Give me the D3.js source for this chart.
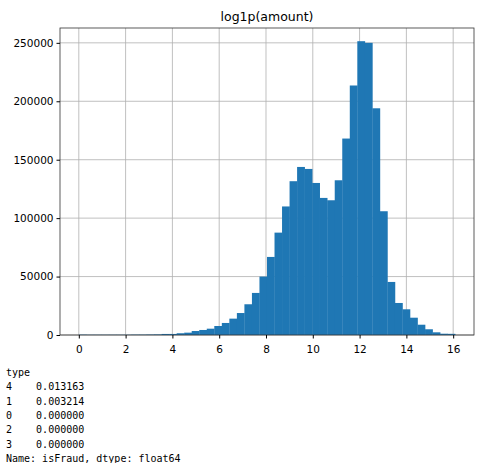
<!DOCTYPE html>
<html><head><meta charset="utf-8">
<script src="https://cdn.jsdelivr.net/npm/d3@7"></script>
<style>body{margin:0;background:#fff}</style></head>
<body><svg id="c" width="485" height="463"></svg>
<script>
const binStart = 0, binWidth = 0.3217;
const counts = [300,200,200,200,200,200,200,300,300,400,500,900,900,1500,2000,3400,4300,5400,7700,10300,14000,18800,26300,36000,50000,66800,87600,110000,131600,143800,142100,130100,117300,115300,132400,168100,213500,251400,250000,194000,105900,45400,27400,22000,14800,8800,4900,2300,1100,1000];
const xTicks = [0,2,4,6,8,10,12,14,16];
const yTicks = [0,50000,100000,150000,200000,250000];
const title = "log1p(amount)";
const textLines = ["type","4    0.013163","1    0.003214","0    0.000000","2    0.000000","3    0.000000","Name: isFraud, dtype: float64"];

const svg = d3.select("#c");
const L=60,R=474,T=28,B=335;
const x = d3.scaleLinear().domain([-0.804,16.89]).range([L,R]);
const y = d3.scaleLinear().domain([0,262700]).range([B,T]);
const g = svg.append("g");
// grid
g.selectAll(".gx").data(xTicks).join("line").attr("x1",d=>x(d)).attr("x2",d=>x(d)).attr("y1",T).attr("y2",B).attr("stroke","#b0b0b0").attr("stroke-width",0.8);
g.selectAll(".gy").data(yTicks).join("line").attr("y1",d=>y(d)).attr("y2",d=>y(d)).attr("x1",L).attr("x2",R).attr("stroke","#b0b0b0").attr("stroke-width",0.8);
// bars
g.selectAll("rect.b").data(counts).join("rect")
 .attr("x",(d,i)=>x(binStart+i*binWidth)).attr("width",(d,i)=>x(binStart+(i+1)*binWidth)-x(binStart+i*binWidth)+0.3)
 .attr("y",d=>y(d)).attr("height",d=>B-y(d)).attr("fill","#1f77b4");
// frame
svg.append("rect").attr("x",L).attr("y",T).attr("width",R-L).attr("height",B-T).attr("fill","none").attr("stroke","#333").attr("stroke-width",0.8);
// axes
const ax = svg.append("g").attr("transform",`translate(0,${B})`).call(d3.axisBottom(x).tickValues(xTicks).tickSize(3.5).tickFormat(d3.format("d")));
const ay = svg.append("g").attr("transform",`translate(${L},0)`).call(d3.axisLeft(y).tickValues(yTicks).tickSize(3.5).tickFormat(d3.format("d")));
[ax,ay].forEach(a=>{a.select(".domain").remove();a.selectAll("text").attr("font-family","DejaVu Sans").attr("font-size","10.5px").attr("fill","#000");a.selectAll("line").attr("stroke","#000");});
ax.selectAll("text").attr("dy","1.05em");
svg.append("text").attr("x",(L+R)/2).attr("y",21).attr("text-anchor","middle").attr("font-family","DejaVu Sans").attr("font-size","12.5px").text(title);
svg.append("g").selectAll("text").data(textLines).join("text").attr("x",6).attr("y",(d,i)=>376+i*14.3)
 .attr("font-family","DejaVu Sans Mono").attr("font-size","10px").attr("fill","#000").attr("xml:space","preserve").style("white-space","pre").text(d=>d);
</script></body></html>
